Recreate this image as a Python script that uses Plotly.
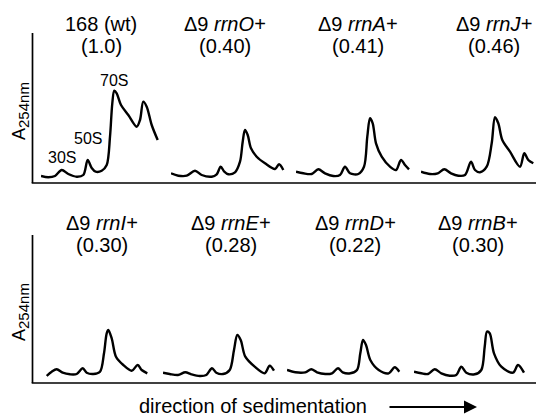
import plotly.graph_objects as go

# ---- data: gradient position vs A254 (arbitrary units) ----
lanes = ["168 (wt)", "Δ9 <i>rrnO+</i>", "Δ9 <i>rrnA+</i>", "Δ9 <i>rrnJ+</i>",
         "Δ9 <i>rrnI+</i>", "Δ9 <i>rrnE+</i>", "Δ9 <i>rrnD+</i>", "Δ9 <i>rrnB+</i>"]
ratios = ["(1.0)", "(0.40)", "(0.41)", "(0.46)", "(0.30)", "(0.28)", "(0.22)", "(0.30)"]

wt_x = [0, 7.3, 14, 20.7, 27.3, 35.7, 42.3, 46.7, 50.7, 54.7, 60.7, 65.7, 69, 71.3, 73.3, 75.7, 80, 87.3, 95.7, 99, 102.3, 105.7, 110.7, 116.7]
wt_y = [7, 5.7, 7, 13, 9, 6.3, 8, 23, 15, 11.3, 12.3, 18, 46.3, 79.7, 92.3, 89.7, 78, 68, 56.3, 63, 81.3, 76.3, 58, 43]

rrnO_x = [0, 7.3, 15.7, 24, 30.7, 40.7, 45.7, 49.7, 53.3, 57.3, 64, 69, 71.7, 74, 76.7, 80, 85.7, 94, 104, 108, 112.3]
rrnO_y = [9.7, 7.3, 7.3, 12.3, 8, 6.3, 8.7, 16.3, 11.3, 8.7, 10.7, 21.3, 41.3, 53, 48, 34.7, 26.3, 19.7, 14, 18.7, 13]

rrnA_x = [0, 7.3, 15.7, 22.3, 29, 37.3, 44, 49, 54, 62.3, 68, 71.3, 74, 76.7, 80, 85.7, 94, 100, 105, 109, 113]
rrnA_y = [11.3, 9.7, 9, 13.7, 9.7, 7, 8, 16.3, 9.7, 9, 16.3, 46.3, 64.7, 59.7, 39.7, 26.3, 16.3, 13, 23, 18, 13.7]

rrnJ_x = [0, 9, 16.7, 23.3, 30, 37.3, 44, 50, 54, 59, 65.7, 70.7, 74, 77.3, 81.3, 89, 99, 103.3, 107.3, 112.3]
rrnJ_y = [11.3, 9, 9.7, 13.7, 9.7, 7.3, 8, 21.3, 13, 10.7, 16.3, 39.7, 65.7, 59.7, 43, 31.3, 16.3, 29.7, 23, 19.7]

rrnI_x = [0.7, 5.7, 10.7, 16.7, 24, 30.7, 36.7, 40.7, 47.3, 54, 58, 60.7, 62.3, 65.7, 70, 77.3, 85.7, 91.7, 95.7, 101.3]
rrnI_y = [7, 11.3, 13.7, 10.3, 8.7, 9, 14.7, 10.3, 9, 11.3, 29.7, 49.7, 53, 44.7, 26.3, 18, 12.3, 18, 13, 9.7]

rrnE_x = [0, 6.7, 15, 22.3, 28.3, 36.7, 43.3, 49, 53.3, 60, 66.7, 71, 74.3, 77.7, 82.3, 91.7, 101.7, 106.7, 111]
rrnE_y = [10.3, 9, 8, 10.7, 8.7, 7, 8, 14.7, 10.3, 9, 13, 33, 48, 43, 26.3, 16.3, 9.7, 17.3, 12.3]

rrnD_x = [0, 8.3, 18.3, 24.3, 30, 38.3, 45, 51, 55.7, 63.3, 70, 73.3, 76, 79, 83.3, 91.7, 101.7, 107.7, 112.3]
rrnD_y = [13, 10.7, 10.7, 13.7, 10.7, 9, 9.7, 14.7, 10.7, 9.7, 13, 29.7, 43, 38, 23, 13, 9.7, 15.7, 11.3]

rrnB_x = [0, 7.3, 14, 20.7, 27.3, 35.7, 42.3, 47.3, 52.3, 60.7, 67.3, 70.7, 73, 75.7, 80, 87.3, 99, 104, 110]
rrnB_y = [11.3, 9.7, 9, 13.7, 9.7, 7.3, 8, 16.3, 10.3, 8.7, 13, 36.3, 51.3, 49.7, 29.7, 16.3, 10.3, 18, 10.3]

peak_labels = ["30S", "50S", "70S"]
peak_x = [20.7, 46.7, 73.3]
peak_label_y = [26, 45, 103]

profiles_x = [wt_x, rrnO_x, rrnA_x, rrnJ_x, rrnI_x, rrnE_x, rrnD_x, rrnB_x]
profiles_y = [wt_y, rrnO_y, rrnA_y, rrnJ_y, rrnI_y, rrnE_y, rrnD_y, rrnB_y]

# ---- layout (pixels of a 536 x 416 canvas) ----
W, H = 536, 416
lane_left = [41, 171, 296, 421, 46, 163, 287, 414]
lane_title_x = [101, 225, 358, 494, 102, 231, 355, 478]
rows = [dict(top=33, base=183, t1=24, t2=46), dict(top=235, base=383, t1=223, t2=245)]
axis_x = 32.5

FONT = "Liberation Sans, Arial, Helvetica, sans-serif"

def px(x):
    return x / W

def py(y):
    return 1 - y / H

fig = go.Figure()
layout = dict(
    width=W, height=H, margin=dict(l=0, r=0, t=0, b=0),
    paper_bgcolor="white", plot_bgcolor="rgba(0,0,0,0)",
    showlegend=False, font=dict(family=FONT, color="black"),
)
annotations = []
shapes = []

for i in range(8):
    r = rows[0] if i < 4 else rows[1]
    left = lane_left[i]
    right = min(W, left + 120)
    n = i + 1
    xa = "x" if n == 1 else f"x{n}"
    ya = "y" if n == 1 else f"y{n}"
    layout["xaxis" if n == 1 else f"xaxis{n}"] = dict(
        domain=[px(left), px(right)], range=[0, right - left], visible=False,
        anchor=ya, fixedrange=True)
    layout["yaxis" if n == 1 else f"yaxis{n}"] = dict(
        domain=[py(r["base"]), py(r["top"])], range=[0, r["base"] - r["top"]],
        visible=False, anchor=xa, fixedrange=True)
    fig.add_trace(go.Scatter(
        x=profiles_x[i], y=profiles_y[i], xaxis=xa, yaxis=ya, mode="lines",
        line=dict(color="black", width=2.4, shape="spline", smoothing=0.9),
        hoverinfo="skip"))
    annotations.append(dict(text=lanes[i], x=px(lane_title_x[i]), y=py(r["t1"]),
                            xref="paper", yref="paper", showarrow=False,
                            xanchor="center", yanchor="middle",
                            font=dict(size=20, family=FONT)))
    annotations.append(dict(text=ratios[i], x=px(lane_title_x[i]), y=py(r["t2"]),
                            xref="paper", yref="paper", showarrow=False,
                            xanchor="center", yanchor="middle",
                            font=dict(size=20, family=FONT)))

# peak labels in the wt lane
for lbl, xv, yv in zip(peak_labels, peak_x, peak_label_y):
    annotations.append(dict(text=lbl, x=xv, y=yv, xref="x", yref="y",
                            showarrow=False, xanchor="center", yanchor="middle",
                            font=dict(size=16, family=FONT)))

# axes frames and y labels
for r in rows:
    shapes.append(dict(type="line", xref="paper", yref="paper",
                       x0=px(axis_x), x1=px(axis_x), y0=py(r["base"]), y1=py(r["top"]),
                       line=dict(color="black", width=1.7)))
    shapes.append(dict(type="line", xref="paper", yref="paper",
                       x0=px(axis_x - 0.8), x1=1, y0=py(r["base"]), y1=py(r["base"]),
                       line=dict(color="black", width=1.7)))
    annotations.append(dict(text="A<sub><span style='font-size:15px'>254nm</span></sub>",
                            x=px(20), y=py((r["top"] + r["base"]) / 2 + 3),
                            xref="paper", yref="paper", showarrow=False, textangle=-90,
                            xanchor="center", yanchor="middle",
                            font=dict(size=18, family=FONT)))

annotations.append(dict(text="direction of sedimentation", x=px(253), y=py(405.5),
                        xref="paper", yref="paper", showarrow=False,
                        xanchor="center", yanchor="middle", borderpad=0,
                        font=dict(size=20, family=FONT)))
annotations.append(dict(text="", x=px(477), y=py(407), ax=-(477 - 388), ay=0,
                        xref="paper", yref="paper", axref="pixel", ayref="pixel",
                        showarrow=True, arrowhead=2, arrowsize=1.3, arrowwidth=2,
                        arrowcolor="black"))

layout["annotations"] = annotations
layout["shapes"] = shapes
fig.update_layout(**layout)
fig.write_html("out.html", config={"displayModeBar": False, "staticPlot": True},
               post_script="document.body.style.margin='0';document.body.style.overflow='hidden';")
